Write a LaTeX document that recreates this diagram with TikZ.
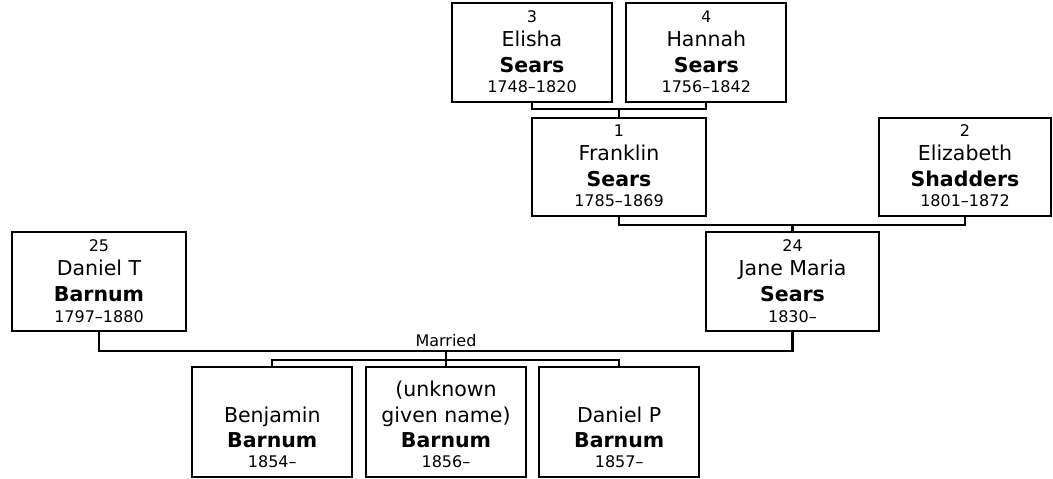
\documentclass[tikz,border=0pt]{standalone}
\usepackage{fontspec}
\setmainfont{DejaVu Sans}

\newcommand{\bigtxt}{\fontsize{20.5}{26}\selectfont}
\newcommand{\smalltxt}{\fontsize{16}{20}\selectfont}

% a box with number, given name, surname and dates
\newcommand{\parent}[7][]{%
\node[personbox, #1] (#2) at (#3) {};
\node[smalltext] (#2-num) at ([yshift=80.7pt]#2.south) {#4};
\node[bigtext] (#2-given) at ([yshift=56.5pt]#2.south) {#5};
\node[bigtext, font=\bigtxt\bfseries] (#2-sur) at ([yshift=30.3pt]#2.south) {#6};
\node[smalltext] (#2-dates) at ([yshift=10pt]#2.south) {#7};
}
% a box with no number
\newcommand{\kid}[6][]{%
\node[personbox, kidbox, #1] (#2) at (#3) {};
\node[bigtext] (#2-given) at ([yshift=55.5pt]#2.south) {#4};
\node[bigtext, font=\bigtxt\bfseries] (#2-sur) at ([yshift=30.5pt]#2.south) {#5};
\node[smalltext] (#2-dates) at ([yshift=10.5pt]#2.south) {#6};
}

\begin{document}
\begin{tikzpicture}[x=1pt, y=-1pt]
\tikzset{link/.style={draw, line width=2.2pt}}
\tikzset{personbox/.style={draw, line width=2.2pt, minimum width=174pt, minimum height=98pt, inner sep=0pt}}
\tikzset{kidbox/.style={minimum width=160pt, minimum height=110.6pt}}
\tikzset{bigtext/.style={font=\bigtxt, anchor=base, align=center, inner sep=0pt}}
\tikzset{smalltext/.style={font=\smalltxt, anchor=base, inner sep=0pt}}
\useasboundingbox (0,0) rectangle (1053,479);

\parent[minimum width=160pt, minimum height=98.4pt]{el}{532,52.5}{3}{Elisha}{Sears}{1748--1820}
\parent[minimum width=160pt, minimum height=98.4pt]{ha}{706.3,52.5}{4}{Hannah}{Sears}{1756--1842}
\parent{fr}{619,166.7}{1}{Franklin}{Sears}{1785--1869}
\parent[minimum width=172pt]{ez}{965,166.7}{2}{Elizabeth}{Shadders}{1801--1872}
\parent[minimum width=173pt, minimum height=99pt]{jm}{792.5,281.5}{24}{Jane Maria}{Sears}{1830--}
\parent[minimum width=173.4pt, minimum height=99pt]{dt}{99,281.5}{25}{Daniel T}{Barnum}{1797--1880}

\kid{kb}{272.3,422}{Benjamin}{Barnum}{1854--}
\kid{ku}{446,422}{(unknown\\given name)}{Barnum}{1856--}
\kid{kd}{619.2,422}{Daniel P}{Barnum}{1857--}

\coordinate (gp) at (619,109);
\draw[link] (el.south) |- (gp) -| (ha.south);
\draw[link] (gp) -- (fr.north);

\coordinate (pp) at (792.5,225);
\draw[link] (fr.south) |- (pp) -| (ez.south);
\draw[link] (pp) -- (jm.north);

\coordinate (mar) at (446,350.7);
\draw[link] (dt.south) |- (mar) -| (jm.south);
\node[smalltext] (married) at ([yshift=4.5pt]mar) {Married};
\coordinate (kids) at (446,360);
\draw[link] (mar) -- (kids);
\draw[link] (kb.north) |- (kids) -| (kd.north);
\draw[link] (kids) -- (ku.north);
\end{tikzpicture}
\end{document}
